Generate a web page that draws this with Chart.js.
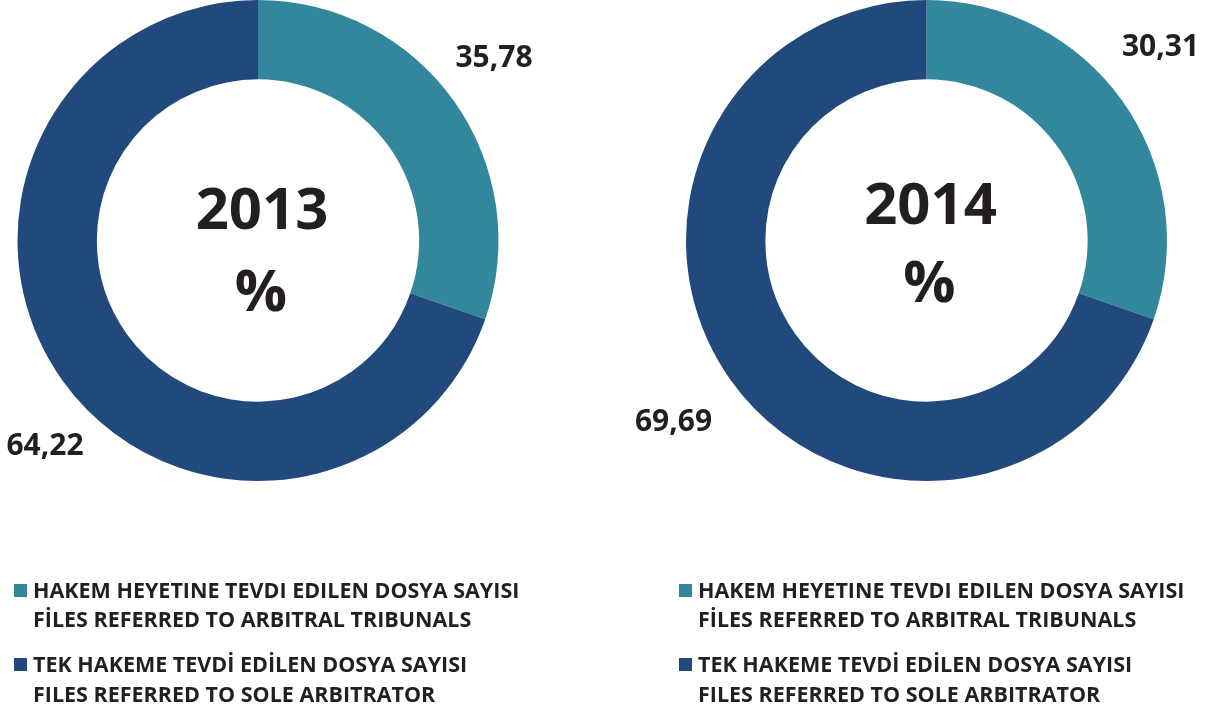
<!DOCTYPE html>
<html>
<head>
<meta charset="utf-8">
<script src="https://cdn.jsdelivr.net/npm/chart.js@4/dist/chart.umd.min.js"></script>
<style>
  html, body { margin: 0; padding: 0; background: #fff; }
  #wrap { position: relative; width: 1205px; height: 709px; overflow: hidden; }
  .box { position: absolute; top: 0; height: 709px; }
</style>
</head>
<body>
<div id="wrap">
  <div class="box" style="left:0;width:600px"><canvas id="c2013"></canvas></div>
  <div class="box" style="left:600px;width:605px"><canvas id="c2014"></canvas></div>
</div>
<script>
// data
const categories = [
  ["HAKEM HEYETINE TEVDI EDILEN DOSYA SAYISI", "FİLES REFERRED TO ARBITRAL TRIBUNALS"],
  ["TEK HAKEME TEVDİ EDİLEN DOSYA SAYISI", "FILES REFERRED TO SOLE ARBITRATOR"]
];
const years = ["2013", "2014"];
// printed values
const labels2013 = ["35,78", "64,22"];
const labels2014 = ["30,31", "69,69"];
// slice sizes as drawn in the picture (the 2013 ring is drawn with the same split as 2014)
const slices2013 = [30.31, 69.69];
const slices2014 = [30.31, 69.69];

const COLORS = ["#33879d", "#21497b"];
const TEXT = "#231f20";
const FONT = "'Open Sans', 'DejaVu Sans', sans-serif";

// label offsets from ring centre, center text offsets
const layouts = {
  "2013": { pad: { left: 17, right: 101, top: 0, bottom: 228 },
            labelPos: [[236, -182], [-213, 206]], yearDy: -28, pctDy: 54,
            legendX: 15 },
  "2014": { pad: { left: 86, right: 38, top: 0, bottom: 228 },
            labelPos: [[234, -193], [-253, 182]], yearDy: -33, pctDy: 45,
            legendX: 80 }
};

const overlayPlugin = {
  id: "overlay",
  afterDraw(chart, args, opts) {
    const ctx = chart.ctx;
    const meta = chart.getDatasetMeta(0);
    const arc = meta.data[0];
    const cx = arc.x, cy = arc.y;
    const lay = layouts[opts.year];
    ctx.save();
    ctx.fillStyle = TEXT;
    ctx.textAlign = "center";
    ctx.textBaseline = "middle";
    // centre text
    ctx.font = "bold 58px " + FONT;
    ctx.fillText(opts.year, cx + 4, cy + lay.yearDy);
    ctx.fillText("%", cx + 3, cy + lay.pctDy);
    // value labels
    ctx.font = "bold 30px " + FONT;
    opts.valueLabels.forEach((t, i) => {
      const p = lay.labelPos[i];
      ctx.fillText(t, cx + p[0], cy + p[1]);
    });
    // legend
    ctx.textAlign = "left";
    ctx.textBaseline = "alphabetic";
    ctx.font = "bold 21.5px " + FONT;
    const bases = [[598, 627], [672, 702]];
    categories.forEach((lines, i) => {
      ctx.fillStyle = chart.data.datasets[0].backgroundColor[i];
      ctx.fillRect(lay.legendX - 1, bases[i][0] - 14, 13, 13);
      ctx.fillStyle = TEXT;
      lines.forEach((ln, j) => ctx.fillText(ln, lay.legendX + 18, bases[i][j]));
    });
    ctx.restore();
  }
};

function makeChart(id, year, slices, valueLabels) {
  const lay = layouts[year];
  return new Chart(document.getElementById(id), {
    type: "doughnut",
    data: {
      labels: categories.map(c => c[1]),
      datasets: [{
        data: slices,
        backgroundColor: COLORS,
        borderWidth: 0,
        hoverOffset: 0
      }]
    },
    options: {
      responsive: true,
      maintainAspectRatio: false,
      animation: false,
      cutout: "67%",
      layout: { padding: lay.pad },
      plugins: {
        legend: { display: false },
        tooltip: { enabled: false },
        overlay: { year: year, valueLabels: valueLabels }
      }
    },
    plugins: [overlayPlugin]
  });
}

makeChart("c2013", years[0], slices2013, labels2013);
makeChart("c2014", years[1], slices2014, labels2014);
</script>
</body>
</html>
